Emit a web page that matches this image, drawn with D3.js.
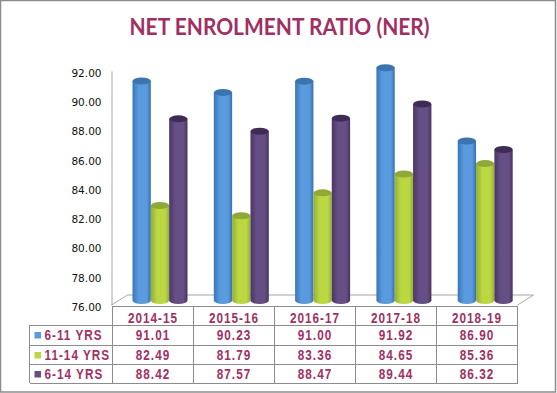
<!DOCTYPE html>
<html>
<head>
<meta charset="utf-8">
<script src="https://cdn.jsdelivr.net/npm/d3@7"></script>
<style>
  html, body { margin: 0; padding: 0; background: #fff; }
  svg { display: block; }
</style>
</head>
<body>
<div class="canvas"></div>
<script>
var years = ['2014-15', '2015-16', '2016-17', '2017-18', '2018-19'];
var seriesNames = ['6-11 YRS', '11-14 YRS', '6-14 YRS'];
var ages611 = [91.01, 90.23, 91.00, 91.92, 86.90];
var ages1114 = [82.49, 81.79, 83.36, 84.65, 85.36];
var ages614 = [88.42, 87.57, 88.47, 89.44, 86.32];
var seriesValues = [ages611, ages1114, ages614];
var tickValues = [76, 78, 80, 82, 84, 86, 88, 90, 92];

var width = 557;
var height = 393;
var textColour = '#a03064';
var gridColour = '#8c8c8c';

// [left edge, middle, right edge, top cap] for each series
var colours = [
  ['#3a76b8', '#5a9be0', '#3a70aa', '#3b74ae'],
  ['#94af34', '#bbd843', '#94ae35', '#8fa936'],
  ['#4a3666', '#664f85', '#46335f', '#3f2c55']
];

var svg = d3.select('.canvas')
  .append('svg')
  .attr('width', width)
  .attr('height', height);

// outer chart border
svg.append('rect')
  .attr('x', 0.5).attr('y', 0.5)
  .attr('width', width - 2).attr('height', height - 1.5)
  .attr('fill', '#fff')
  .attr('stroke', '#8c8c8c')
  .attr('stroke-width', 1.5);

var defs = svg.append('defs');
colours.forEach(function(c, i) {
  var g = defs.append('linearGradient').attr('id', 'cyl' + i);
  g.append('stop').attr('offset', '0%').attr('stop-color', c[0]);
  g.append('stop').attr('offset', '35%').attr('stop-color', c[1]);
  g.append('stop').attr('offset', '78%').attr('stop-color', c[1]);
  g.append('stop').attr('offset', '100%').attr('stop-color', c[2]);
});

// title is squeezed a little to get the taller, narrower letters
svg.append('text')
  .attr('transform', 'translate(279.5,34.5) scale(0.92,1)')
  .attr('text-anchor', 'middle')
  .attr('font-family', 'Lato, sans-serif')
  .attr('font-weight', 700)
  .attr('font-size', 22.8)
  .attr('fill', textColour)
  .text('NET ENROLMENT RATIO (NER)');

var tableLeft = 112.5;
var tableRight = 517.5;
var labelLeft = 29.5;
var rows = [306, 325, 345, 364, 383];

var xscale = d3.scaleBand().domain(years).range([tableLeft, tableRight]);
var yscale = d3.scaleLinear().domain([76, 92]).range([305, 71]);
var barBase = 4.5;   // cylinders stand a little behind the front edge
var groupX = d3.scaleBand().domain(years).range([tableLeft, tableRight + 1.5]);
var barX = d3.scaleBand().domain(d3.range(3)).range([20, 75]);
var capRy = 3.5;

// floor and back wall
var wallDx = 16;
var wallDy = 10;
svg.append('path')
  .attr('d', d3.line()([
    [tableLeft - 1, yscale(76)], [tableLeft - 1 + wallDx, yscale(76) - wallDy],
    [tableRight + wallDx, yscale(76) - wallDy], [tableRight, yscale(76)]
  ]))
  .attr('fill', '#fff')
  .attr('stroke', '#a6a6a6');

// y axis
var yaxis = d3.axisLeft(yscale)
  .tickValues(tickValues)
  .tickSize(0)
  .tickPadding(10)
  .tickFormat(d3.format('.2f'));
var yg = svg.append('g')
  .attr('transform', 'translate(' + (tableLeft - 1) + ',0)')
  .call(yaxis);
yg.select('.domain').attr('stroke', '#a6a6a6').attr('stroke-width', 1);
yg.selectAll('text')
  .attr('y', 2)
  .attr('font-family', '"DejaVu Sans", sans-serif')
  .attr('font-size', 10.5)
  .attr('fill', '#111');

// cylinders
seriesValues.forEach(function(values, s) {
  var g = svg.append('g');
  values.forEach(function(v, i) {
    var x0 = groupX(years[i]) + barX(s);
    var w = barX.bandwidth();
    var rx = w / 2;
    var top = yscale(v) - barBase;
    var bottom = yscale(76) - barBase;
    g.append('path')
      .attr('d', 'M' + x0 + ',' + top + 'L' + x0 + ',' + bottom +
        'A' + rx + ',' + capRy + ' 0 0 0 ' + (x0 + w) + ',' + bottom +
        'L' + (x0 + w) + ',' + top + 'Z')
      .attr('fill', 'url(#cyl' + s + ')');
    g.append('ellipse')
      .attr('cx', x0 + rx)
      .attr('cy', top)
      .attr('rx', rx)
      .attr('ry', capRy)
      .attr('fill', colours[s][3]);
  });
});

// data table
var grid = svg.append('g')
  .attr('stroke', gridColour)
  .attr('stroke-width', 1)
  .attr('shape-rendering', 'crispEdges');
rows.forEach(function(y, i) {
  grid.append('line')
    .attr('x1', i === 0 ? tableLeft : labelLeft).attr('x2', tableRight)
    .attr('y1', y).attr('y2', y);
});
grid.append('line')
  .attr('x1', labelLeft).attr('x2', labelLeft)
  .attr('y1', rows[1]).attr('y2', rows[4]);
years.concat(['end']).forEach(function(d, i) {
  var x = tableLeft + i * xscale.step();
  grid.append('line')
    .attr('x1', x).attr('x2', x)
    .attr('y1', rows[0]).attr('y2', rows[4]);
});

// narrow bold table text with wide spacing
function cell(x, y, anchor, label) {
  svg.append('text')
    .attr('transform', 'translate(' + x + ',' + y + ') scale(0.84,1)')
    .attr('text-anchor', anchor)
    .attr('font-family', '"Liberation Sans", sans-serif')
    .attr('font-weight', 700)
    .attr('font-size', 14)
    .attr('letter-spacing', 1.2)
    .attr('fill', textColour)
    .text(label);
}

years.forEach(function(d) {
  cell(xscale(d) + xscale.bandwidth() / 2, rows[0] + 16.5, 'middle', d);
});
seriesNames.forEach(function(name, s) {
  svg.append('rect')
    .attr('x', 34.5)
    .attr('y', rows[s + 1] + 7)
    .attr('width', 6.5)
    .attr('height', 6.5)
    .attr('fill', colours[s][1]);
  cell(44.5, rows[s + 1] + 14.5, 'start', name);
  seriesValues[s].forEach(function(v, i) {
    cell(xscale(years[i]) + xscale.bandwidth() / 2, rows[s + 1] + 14.5, 'middle', d3.format('.2f')(v));
  });
});
</script>
</body>
</html>
